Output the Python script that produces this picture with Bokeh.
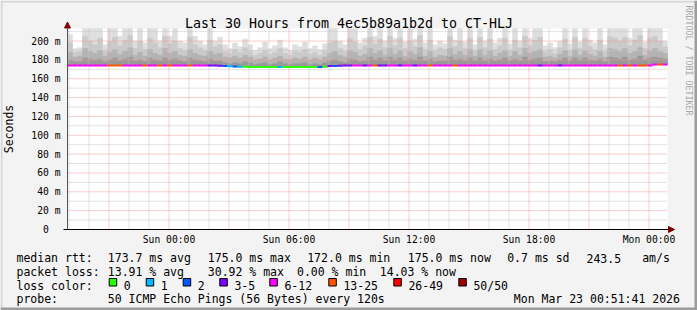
from math import pi
import pandas as pd
from bokeh.plotting import figure
from bokeh.models import FixedTicker, Label, Arrow, NormalHead, Range1d
from bokeh.embed import file_html
from bokeh.resources import INLINE

# ---------------- data ----------------
TITLE = "Last 30 Hours from 4ec5b89a1b2d to CT-HLJ"
START = "2026-03-21 18:55:30"
END = "2026-03-23 00:55:30"
SLOT_MINUTES = 15
Y_TOP = 213.3

# smoke: max ping, 90th, 75th, 60th percentile (ms) per 15-minute slot
rtt_max = [207, 192, 193, 214, 214, 214, 214, 196, 214, 214, 205, 214, 214, 200, 214, 198, 214, 214, 200, 214,
           205, 214, 200, 198, 214, 205, 200, 196, 214, 200,
           204, 196, 192, 198, 194, 202, 196, 190, 193, 199, 192, 195, 201, 193, 190, 196, 194, 199, 192, 195,
           191, 197, 214, 214, 200, 196, 214, 214, 198, 203,
           214, 205, 214, 200, 214, 203, 214, 199, 214, 202, 214, 198, 214, 196, 200, 197, 214, 201, 214, 199,
           214, 196, 214, 200, 214, 198, 203, 214, 197, 214,
           200, 214, 203, 214, 214, 195, 198, 193, 200, 214, 197, 214, 199, 214, 201, 198, 214, 196, 214, 214,
           214, 214, 203, 214, 214, 199, 214, 214, 214, 200]
rtt_p90 = [198, 188, 189, 205, 200, 196, 203, 190, 199, 204, 195, 201, 206, 192, 200, 191, 203, 198, 193, 205,
           197, 200, 192, 190, 204, 196, 193, 190, 201, 194,
           196, 189, 187, 191, 188, 193, 189, 185, 187, 190, 186, 188, 192, 187, 185, 189, 188, 191, 186, 188,
           185, 190, 198, 200, 192, 189, 203, 199, 191, 195,
           204, 197, 202, 193, 205, 195, 203, 192, 200, 194, 206, 191, 201, 190, 193, 191, 205, 194, 200, 192,
           203, 190, 204, 193, 202, 191, 195, 203, 190, 201,
           193, 205, 195, 201, 204, 189, 191, 187, 193, 202, 190, 204, 192, 203, 194, 191, 201, 189, 205, 203,
           200, 204, 195, 201, 206, 192, 203, 205, 200, 194]
rtt_p75 = [188, 183, 184, 192, 189, 187, 190, 184, 188, 191, 186, 189, 193, 185, 188, 184, 191, 187, 185, 192,
           187, 189, 185, 184, 191, 187, 185, 184, 189, 186,
           187, 183, 182, 184, 182, 185, 183, 180, 181, 183, 180, 182, 184, 181, 180, 182, 181, 183, 180, 182,
           180, 183, 187, 189, 185, 183, 190, 188, 184, 186,
           192, 187, 190, 185, 192, 186, 190, 184, 189, 186, 193, 184, 189, 183, 185, 184, 192, 186, 189, 185,
           191, 184, 191, 185, 190, 184, 187, 190, 184, 189,
           185, 192, 187, 189, 191, 183, 184, 182, 186, 190, 184, 191, 185, 190, 186, 184, 189, 183, 192, 191,
           189, 192, 187, 189, 193, 185, 190, 192, 189, 187]
rtt_p60 = [180, 178, 178, 182, 181, 180, 181, 178, 180, 182, 179, 181, 183, 179, 180, 178, 182, 180, 179, 182,
           180, 181, 179, 178, 182, 180, 179, 178, 181, 179,
           179, 177, 176, 177, 176, 178, 177, 175, 176, 177, 175, 176, 178, 176, 175, 176, 176, 177, 175, 176,
           175, 177, 179, 180, 178, 177, 181, 180, 178, 179,
           183, 180, 182, 179, 183, 180, 182, 179, 181, 180, 183, 179, 181, 178, 179, 179, 183, 180, 181, 179,
           182, 179, 182, 179, 181, 179, 180, 182, 179, 181,
           179, 183, 180, 181, 182, 178, 179, 178, 180, 182, 179, 182, 180, 182, 180, 179, 181, 178, 183, 182,
           181, 183, 180, 181, 184, 180, 182, 183, 182, 181]
rtt_median = [174.0] * 30 + \
    [173.8, 173.5, 173.2, 173.0, 172.8, 172.6, 172.4, 172.4, 172.4, 172.4, 172.4, 172.4, 172.4, 172.4, 172.4,
     172.4, 172.4, 172.4, 172.4, 172.4, 172.5, 172.6, 173.4, 173.6, 173.8, 174.0, 174.0, 174.0, 174.0, 174.0] + \
    [174.0] * 57 + [175.0, 175.0, 175.0]
loss_count = [8, 8, 8, 8, 8, 8, 8, 8, 14, 14, 14, 8, 8, 8, 8, 14, 8, 8, 14, 8,
              14, 8, 8, 8, 14, 8, 8, 8, 4, 4,
              4, 2, 1, 2, 1, 0, 0, 0, 0, 0, 0, 0, 1, 0, 0, 0, 0, 0, 0, 0,
              2, 0, 4, 2, 4, 4, 4, 8, 8, 4,
              8, 14, 4, 4, 8, 8, 4, 8, 8, 4, 8, 8, 14, 8, 8, 8, 8, 14, 8, 8,
              8, 8, 8, 8, 8, 8, 8, 8, 8, 8,
              8, 8, 8, 8, 4, 8, 8, 8, 4, 8, 8, 8, 8, 8, 8, 8, 8, 8, 8, 8,
              14, 8, 14, 8, 14, 14, 8, 8, 14, 8]

loss_labels = ["0", "1", "2", "3-5", "6-12", "13-25", "26-49", "50/50"]
loss_low = [0, 1, 2, 3, 6, 13, 26, 50]
loss_colors = ["#26ff00", "#00b8ff", "#0059ff", "#7e00ff", "#ff00ff", "#ff5500", "#ff0000", "#a10000"]

x_tick_times = ["2026-03-22 00:00", "2026-03-22 06:00", "2026-03-22 12:00",
                "2026-03-22 18:00", "2026-03-23 00:00"]
x_tick_labels = ["Sun 00:00", "Sun 06:00", "Sun 12:00", "Sun 18:00", "Mon 00:00"]
y_tick_values = [0, 20, 40, 60, 80, 100, 120, 140, 160, 180, 200]
y_tick_labels = ["0\u00a0\u00a0", "20 m", "40 m", "60 m", "80 m", "100 m",
                 "120 m", "140 m", "160 m", "180 m", "200 m"]
y_minor_values = [10, 30, 50, 70, 90, 110, 130, 150, 170, 190, 210]

stats_rtt = ["median rtt:", "173.7 ms avg", "175.0 ms max", "172.0 ms min",
             "175.0 ms now", "0.7 ms sd", "243.5", "am/s"]
stats_loss = ["packet loss:", "13.91 % avg", "30.92 % max", "0.00 % min", "14.03 % now"]
probe_texts = ["probe:", "50 ICMP Echo Pings (56 Bytes) every 120s", "Mon Mar 23 00:51:41 2026"]

# ---------------- layout helpers ----------------
def ms(s):
    return pd.Timestamp(s).value / 1e6


start_ms, end_ms = ms(START), ms(END)
FL, FR, FT, FB = 67, 667, 28, 229   # plot-area pixel box inside the 697x310 canvas


def px_x(px):
    return start_ms + (px - FL) * (end_ms - start_ms) / (FR - FL)


def px_y(py):
    return (FB - py) * Y_TOP / (FB - FT)


MONO = "DejaVu Sans Mono"

p = figure(width=697, height=310, x_axis_type="datetime",
           x_range=Range1d(px_x(0), px_x(697)), y_range=Range1d(px_y(310), px_y(0)),
           output_backend="svg", toolbar_location=None,
           min_border_left=0, min_border_right=0, min_border_top=0, min_border_bottom=0,
           background_fill_color="#f3f3f3", border_fill_color="#f3f3f3",
           outline_line_color=None)
p.title.visible = False
p.xgrid.visible = False
p.ygrid.visible = False

# canvas frame edges (3D look)
p.quad(left=[px_x(0), px_x(0), px_x(694), px_x(0)], right=[px_x(697), px_x(2), px_x(697), px_x(697)],
       top=[px_y(0), px_y(0), px_y(0), px_y(307)], bottom=[px_y(2), px_y(310), px_y(310), px_y(310)],
       fill_color=["#d6d6d6", "#d6d6d6", "#9c9c9c", "#9c9c9c"], line_color=None)

# plot area
p.quad(left=start_ms, right=end_ms, bottom=0, top=Y_TOP, fill_color="white", line_color=None)

# smoke
slot = SLOT_MINUTES * 60000
t_left = [start_ms + i * slot for i in range(len(rtt_max))]
t_right = [t + slot for t in t_left]
for vals, col in [(rtt_max, "#dedede"), (rtt_p90, "#cacaca"), (rtt_p75, "#b3b3b3"), (rtt_p60, "#999999")]:
    p.quad(left=t_left, right=t_right, bottom=rtt_median, top=[min(v, Y_TOP) for v in vals],
           fill_color=col, line_color=col, line_width=0.5)

# grid (above smoke, like rrdtool)
hour = 3600000
grid_major = [t for t in range(int(ms("2026-03-21 21:00")), int(end_ms), 3 * hour)]
grid_minor = [t for t in range(int(ms("2026-03-21 19:00")), int(end_ms), hour) if t not in grid_major]
GRID_RED, GRID_GRAY = "#f29a9a", "#c4c4c4"
p.segment(x0=grid_minor, x1=grid_minor, y0=0, y1=Y_TOP, line_color=GRID_GRAY, line_dash="1 1", line_width=1)
p.segment(x0=start_ms, x1=end_ms, y0=y_minor_values, y1=y_minor_values,
          line_color=GRID_GRAY, line_dash="1 1", line_width=1)
p.segment(x0=grid_major, x1=grid_major, y0=0, y1=Y_TOP, line_color=GRID_RED, line_dash="1 1", line_width=1)
p.segment(x0=start_ms, x1=end_ms, y0=y_tick_values[1:], y1=y_tick_values[1:],
          line_color=GRID_RED, line_dash="1 1", line_width=1)


def loss_color(n):
    c = loss_colors[0]
    for lo, cc in zip(loss_low, loss_colors):
        if n >= lo:
            c = cc
    return c


# median rtt coloured by packet loss
p.segment(x0=t_left, x1=t_right, y0=rtt_median, y1=rtt_median,
          line_color=[loss_color(n) for n in loss_count], line_width=2)

# axes (fixed inside the canvas at the plot-area edges)
p.xaxis.fixed_location = 0
p.xaxis.bounds = (start_ms, end_ms)
p.yaxis.fixed_location = start_ms
p.yaxis.bounds = (0, Y_TOP)
p.xaxis.ticker = FixedTicker(ticks=[ms(t) for t in x_tick_times], minor_ticks=[])
p.xaxis.major_label_overrides = {ms(t): lab for t, lab in zip(x_tick_times, x_tick_labels)}
p.yaxis.ticker = FixedTicker(ticks=y_tick_values, minor_ticks=[])
p.yaxis.major_label_overrides = dict(zip(y_tick_values, y_tick_labels))
for ax in (p.xaxis, p.yaxis):
    ax.axis_line_color = None
    ax.major_tick_line_color = None
    ax.minor_tick_line_color = None
    ax.major_tick_out = 0
    ax.major_tick_in = 0
    ax.minor_tick_out = 0
    ax.minor_tick_in = 0
    ax.major_label_text_font = MONO
    ax.major_label_text_font_size = "9.7px"
    ax.major_label_text_color = "black"
p.xaxis.major_label_standoff = 4
p.yaxis.major_label_standoff = 7
p.yaxis.axis_label = "Seconds"
p.yaxis.axis_label_text_font = MONO
p.yaxis.axis_label_text_font_size = "11.5px"
p.yaxis.axis_label_text_font_style = "normal"
p.yaxis.axis_label_text_color = "black"
p.yaxis.axis_label_standoff = 12

# axis lines with arrow heads
p.add_layout(Arrow(x_start=px_x(63), y_start=0, x_end=px_x(674), y_end=0,
                   line_color="black", line_width=1,
                   end=NormalHead(size=6, fill_color="#800000", line_color="#800000")))
p.add_layout(Arrow(x_start=start_ms, y_start=0, x_end=start_ms, y_end=px_y(21.5),
                   line_color="#555555", line_width=1,
                   end=NormalHead(size=6, fill_color="#800000", line_color="#800000")))


def add_text(text, px, py, size="11.5px", color="black", align="left", baseline="alphabetic", angle=0.0):
    p.add_layout(Label(x=px_x(px), y=px_y(py), text=text, text_font=MONO, text_font_size=size,
                       text_color=color, text_align=align, text_baseline=baseline, angle=angle))


add_text(TITLE, 348.5, 23.3, size="13.3px", align="center")
add_text("RRDTOOL / TOBI OETIKER", 688, 5, size="8.3px", color="#a8a8a8", baseline="middle", angle=-pi / 2)

row_base = [257.5, 271.3, 285.1, 298.9]
for txt, x in zip(stats_rtt, [16, 107.3, 207.3, 306.7, 407.3, 506.7, 586, 641.7]):
    add_text(txt, x, row_base[0])
for txt, x in zip(stats_loss, [16, 107.3, 207.3, 296.5, 379.3]):
    add_text(txt, x, row_base[1])
add_text("loss color:", 16, row_base[2])
box_px = [108.7, 145.7, 182.7, 219.3, 269.3, 328.3, 393.3, 458.3]
p.quad(left=[px_x(b) for b in box_px], right=[px_x(b + 7.5) for b in box_px],
       top=px_y(278), bottom=px_y(285.5), fill_color=loss_colors, line_color="black", line_width=1)
for lab, bx in zip(loss_labels, box_px):
    add_text(lab, bx + 14.6, row_base[2])
for txt, x in zip(probe_texts, [16, 107.3, 513.3]):
    add_text(txt, x, row_base[3])

open("out.html", "w").write(file_html(p, INLINE))
